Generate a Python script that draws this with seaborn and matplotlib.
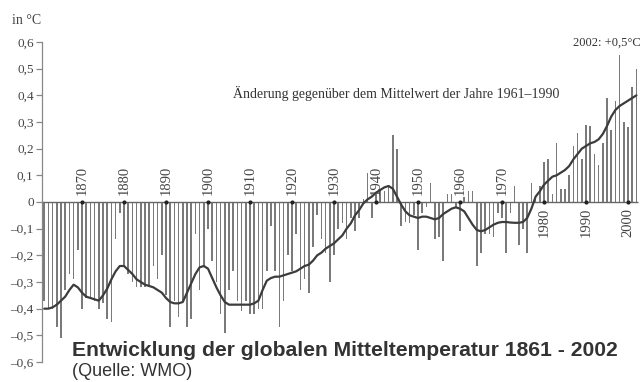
import matplotlib
matplotlib.use("Agg")
import matplotlib.pyplot as plt
import seaborn as sns

# Annual global temperature anomaly (deg C) relative to 1961-1990
years = list(range(1861, 2003))
anomaly = [
    -0.37, -0.40, -0.40, -0.47, -0.51, -0.33, -0.27, -0.29, -0.18, -0.40,   # 1861-1870
    -0.36, -0.36, -0.37, -0.40, -0.38, -0.44, -0.45, -0.14, -0.04, -0.24,   # 1871-1880
    -0.27, -0.30, -0.32, -0.32, -0.32, -0.31, -0.24, -0.29, -0.20, -0.35,   # 1881-1890
    -0.47, -0.37, -0.43, -0.37, -0.47, -0.44, -0.12, -0.33, -0.24, -0.10,   # 1891-1900
    -0.22, -0.30, -0.42, -0.49, -0.33, -0.26, -0.37, -0.41, -0.37, -0.42,   # 1901-1910
    -0.42, -0.40, -0.40, -0.26, -0.09, -0.26, -0.47, -0.37, -0.20, -0.26,   # 1911-1920
    -0.12, -0.33, -0.29, -0.34, -0.17, -0.05, -0.14, -0.19, -0.30, -0.20,   # 1921-1930
    -0.10, -0.08, -0.14, -0.06, -0.11, -0.06, 0.01, 0.11, -0.06, 0.03,      # 1931-1940
    0.05, 0.04, 0.06, 0.25, 0.20, -0.09, -0.075, -0.08, -0.05, -0.18,       # 1941-1950
    -0.04, -0.02, 0.07, -0.14, -0.13, -0.22, 0.03, 0.03, -0.02, -0.11,      # 1951-1960
    0.02, 0.04, 0.04, -0.24, -0.19, -0.12, -0.12, -0.13, -0.04, -0.06,      # 1961-1970
    -0.19, -0.04, 0.06, -0.16, -0.10, -0.19, 0.07, 0.01, 0.06, 0.15,        # 1971-1980
    0.16, 0.03, 0.22, 0.05, 0.05, 0.10, 0.21, 0.26, 0.16, 0.29,             # 1981-1990
    0.285, 0.18, 0.14, 0.22, 0.39, 0.27, 0.38, 0.55, 0.30, 0.28,            # 1991-2000
    0.43, 0.50,                                                             # 2001-2002
]

# Smoothed trend curve
trend = [
    -0.40, -0.40, -0.395, -0.385, -0.37, -0.355, -0.33, -0.31, -0.32, -0.34,
    -0.355, -0.36, -0.365, -0.37, -0.35, -0.325, -0.29, -0.26, -0.24, -0.24,
    -0.255, -0.27, -0.29, -0.30, -0.31, -0.315, -0.32, -0.33, -0.34, -0.36,
    -0.375, -0.38, -0.38, -0.375, -0.34, -0.305, -0.27, -0.245, -0.24, -0.25,
    -0.285, -0.32, -0.35, -0.375, -0.385, -0.385, -0.385, -0.385, -0.385, -0.385,
    -0.38, -0.37, -0.33, -0.295, -0.285, -0.28, -0.28, -0.275, -0.27, -0.265,
    -0.26, -0.25, -0.24, -0.235, -0.22, -0.20, -0.19, -0.175, -0.165, -0.155,
    -0.14, -0.125, -0.10, -0.08, -0.05, -0.03, -0.005, 0.01, 0.02, 0.035,
    0.045, 0.055, 0.06, 0.05, 0.02, -0.01, -0.035, -0.05, -0.055, -0.06,
    -0.055, -0.055, -0.06, -0.065, -0.06, -0.045, -0.035, -0.025, -0.02, -0.025,
    -0.035, -0.06, -0.085, -0.105, -0.11, -0.105, -0.095, -0.085, -0.078, -0.075,
    -0.075, -0.077, -0.078, -0.078, -0.075, -0.06, -0.025, 0.02, 0.04, 0.065,
    0.08, 0.095, 0.10, 0.11, 0.12, 0.135, 0.16, 0.18, 0.20, 0.21,
    0.22, 0.225, 0.235, 0.255, 0.285, 0.32, 0.345, 0.36, 0.37, 0.38,
    0.39, 0.40,
]

decades = [1870, 1880, 1890, 1900, 1910, 1920, 1930, 1940, 1950, 1960, 1970, 1980, 1990, 2000]
yticks = [0.6, 0.5, 0.4, 0.3, 0.2, 0.1, 0.0, -0.1, -0.2, -0.3, -0.4, -0.5, -0.6]
ytick_labels = ["0,6", "0,5", "0,4", "0,3", "0,2", "0,1", "0",
                "–0,1", "–0,2", "–0,3", "–0,4", "–0,5", "–0,6"]

sns.set_theme(style="white")
serif = ["Liberation Serif", "DejaVu Serif"]
sans = ["Liberation Sans", "DejaVu Sans"]
plt.rcParams["font.family"] = serif

W, H = 642, 382
fig = plt.figure(figsize=(W / 100, H / 100), dpi=100)
fig.patch.set_facecolor("white")

px_per_year = 4.2
x0_year = 1870 - (82 - 42) / px_per_year
x1_year = 1870 + (642 - 82) / px_per_year
ax = fig.add_axes([42 / W, 20 / H, 600 / W, 320 / H])
ax.set_facecolor("white")

bar_color = "#7a7a7a"
sns.barplot(x=years, y=anomaly, native_scale=True, width=0.36, color=bar_color,
            errorbar=None, linewidth=0, saturation=1, ax=ax)

# zero line
ax.hlines(0, x0_year, 2002.3, color="#666666", linewidth=1.0, zorder=2)

sns.lineplot(x=years, y=trend, color="#3c3c3c", linewidth=1.6, ax=ax, zorder=4)

# decade markers and labels
ax.scatter(decades, [0] * len(decades), s=9, color="#222222", zorder=5, linewidths=0)
for d in decades:
    if d < 1980:
        ax.text(d, 0.026, str(d), rotation=90, ha="center", va="bottom",
                fontsize=10.5, color="#444444", zorder=6)
    else:
        ax.text(d, -0.022, str(d), rotation=90, ha="center", va="top",
                fontsize=10.5, color="#444444", zorder=6)

ax.set_xlim(x0_year, x1_year)
ax.set_ylim(-0.6, 0.6)
ax.set_xticks([])
ax.set_yticks(yticks)
ax.set_yticklabels(ytick_labels)
ax.set_xlabel("")
ax.set_ylabel("")
for side in ("top", "right", "bottom"):
    ax.spines[side].set_visible(False)
ax.spines["left"].set_color("#888888")
ax.spines["left"].set_linewidth(0.9)
ax.tick_params(axis="y", direction="out", length=4, width=0.9, color="#888888",
               labelsize=9.5, labelcolor="#444444", pad=2, left=True)

ax.text(1906.0, 0.39, "Änderung gegenüber dem Mittelwert der Jahre 1961–1990",
        fontsize=10, color="#333333", va="baseline", ha="left")

fig.text(12 / W, 1 - 21 / H, "in °C", fontsize=10, color="#444444", va="center", ha="left")
fig.text(641 / W, 1 - 43 / H, "2002: +0,5°C", fontsize=9, color="#333333",
         va="center", ha="right")

fig.text(72 / W, 1 - 350 / H, "Entwicklung der globalen Mitteltemperatur 1861 - 2002",
         fontsize=15.2, fontweight="bold", family=sans, color="#333333", va="center", ha="left")
fig.text(72 / W, 1 - 372 / H, "(Quelle: WMO)", fontsize=13, family=sans,
         color="#333333", va="center", ha="left")

fig.savefig("out.png", dpi=100, facecolor="white")
